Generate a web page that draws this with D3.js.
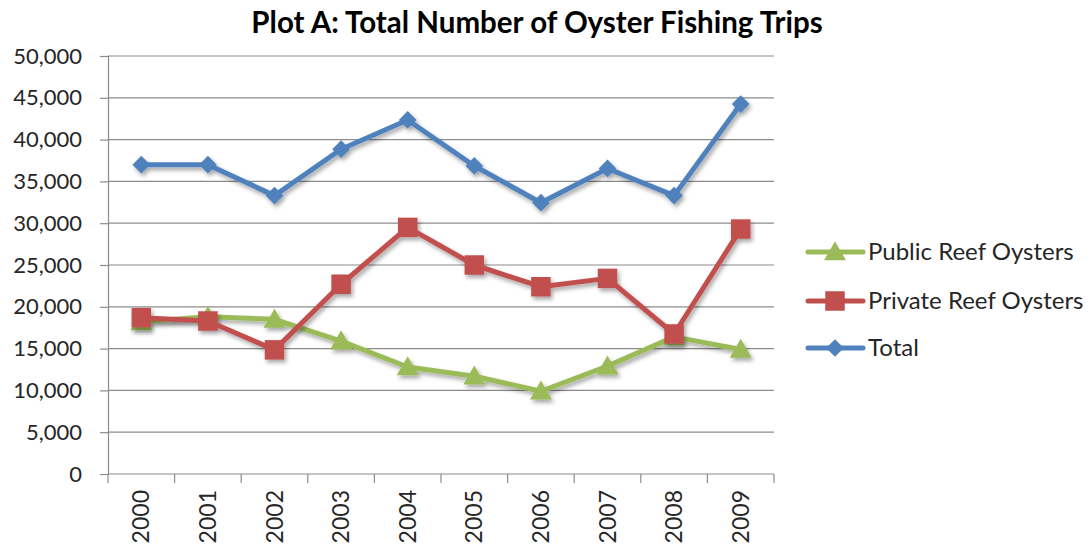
<!DOCTYPE html>
<html>
<head>
<meta charset="utf-8">
<script src="https://cdn.jsdelivr.net/npm/d3@7"></script>
<style>
  body { margin: 0; background: #fff; }
  text { font-family: Lato, "Open Sans", sans-serif; fill: #262626; }
</style>
</head>
<body>
<svg id="chart" width="1092" height="548"></svg>
<script>
// data
var years = ["2000","2001","2002","2003","2004","2005","2006","2007","2008","2009"];
var publicReef  = [18200, 18800, 18500, 15900, 12800, 11700, 9900, 12900, 16400, 14900];
var privateReef = [18700, 18300, 14850, 22700, 29500, 25000, 22400, 23400, 16750, 29300];
var total       = [37000, 37000, 33300, 38850, 42350, 36850, 32450, 36550, 33300, 44250];
var yTicks = [0, 5000, 10000, 15000, 20000, 25000, 30000, 35000, 40000, 45000, 50000];

var series = [
    {name: "Public Reef Oysters", values: publicReef, color: "#9BBB59", marker: "triangle"},
    {name: "Private Reef Oysters", values: privateReef, color: "#C0504D", marker: "square"},
    {name: "Total", values: total, color: "#4F81BD", marker: "diamond"}
];

var svg = d3.select("#chart");
var plotLeft = 108, plotRight = 774, plotTop = 56, plotBottom = 474;

var x = d3.scaleBand().domain(years).range([plotLeft, plotRight]);
var y = d3.scaleLinear().domain([0, 50000]).range([plotBottom, plotTop]);

// shadow like the spreadsheet's
var defs = svg.append("defs");
defs.append("filter").attr("id", "shadow")
    .attr("x", "-50%").attr("y", "-50%").attr("width", "200%").attr("height", "200%")
    .append("feDropShadow")
    .attr("dx", 2).attr("dy", 3).attr("stdDeviation", 2)
    .attr("flood-color", "#000").attr("flood-opacity", 0.35);

// title
svg.append("text")
    .attr("x", 537).attr("y", 33)
    .attr("text-anchor", "middle")
    .style("font-size", "29.5px").style("font-weight", "bold")
    .style("fill", "#000")
    .text("Plot A: Total Number of Oyster Fishing Trips");

// gridlines
svg.append("g").selectAll("line")
    .data(yTicks.filter(function(d) { return d > 0; }))
    .enter().append("line")
    .attr("x1", plotLeft).attr("x2", plotRight)
    .attr("y1", function(d) { return y(d); })
    .attr("y2", function(d) { return y(d); })
    .attr("stroke", "#8c8c8c").attr("stroke-width", 1.2);

// y axis
var yAxis = d3.axisLeft(y).tickValues(yTicks)
    .tickFormat(d3.format(",")).tickSize(8).tickPadding(18);
var gy = svg.append("g").attr("transform", "translate(" + plotLeft + ",0)").call(yAxis);
gy.select(".domain").attr("stroke", "#8c8c8c").attr("stroke-width", 1.2);
gy.selectAll(".tick line").attr("stroke", "#8c8c8c").attr("stroke-width", 1.2);
gy.selectAll(".tick text").style("font-size", "22px").style("font-family", "Lato, sans-serif").attr("fill", "#262626");

// x axis: ticks sit between categories
var gx = svg.append("g").attr("transform", "translate(0," + plotBottom + ")");
gx.append("line").attr("x1", plotLeft).attr("x2", plotRight)
    .attr("stroke", "#8c8c8c").attr("stroke-width", 1.2);
gx.selectAll("line.tk")
    .data(years.concat(["end"]))
    .enter().append("line").attr("class", "tk")
    .attr("x1", function(d, i) { return plotLeft + i * x.step(); })
    .attr("x2", function(d, i) { return plotLeft + i * x.step(); })
    .attr("y1", 0).attr("y2", 9)
    .attr("stroke", "#8c8c8c").attr("stroke-width", 1.2);
gx.selectAll("text")
    .data(years)
    .enter().append("text")
    .attr("transform", function(d) {
        return "translate(" + (x(d) + x.bandwidth() / 2 + 8) + ",16) rotate(-90)";
    })
    .attr("text-anchor", "end")
    .style("font-size", "23px")
    .text(function(d) { return d; });

function cx(i) { return x(years[i]) + x.bandwidth() / 2; }

var symbols = {
    triangle: d3.symbol().type(d3.symbolTriangle).size(210),
    square: d3.symbol().type(d3.symbolSquare).size(380),
    diamond: d3.symbol().type(d3.symbolDiamond2).size(200)
};

var line = d3.line()
    .x(function(d, i) { return cx(i); })
    .y(function(d) { return y(d); });

series.forEach(function(s) {
    var g = svg.append("g").attr("filter", "url(#shadow)");
    g.append("path")
        .datum(s.values)
        .attr("d", line)
        .attr("fill", "none")
        .attr("stroke", s.color)
        .attr("stroke-width", 5)
        .attr("stroke-linejoin", "round");
    g.selectAll("path.pt")
        .data(s.values)
        .enter().append("path").attr("class", "pt")
        .attr("d", symbols[s.marker])
        .attr("transform", function(d, i) {
            var dy = s.marker == "triangle" ? 2 : 0;
            return "translate(" + cx(i) + "," + (y(d) + dy) + ")";
        })
        .attr("fill", s.color);
});

// legend
var legend = svg.append("g");
var legendY = [252, 301, 348];
series.forEach(function(s, i) {
    var row = legend.append("g").attr("transform", "translate(808," + legendY[i] + ")");
    row.append("line").attr("x1", 0).attr("x2", 55)
        .attr("stroke", s.color).attr("stroke-width", 5).attr("stroke-linecap", "round");
    row.append("path")
        .attr("d", symbols[s.marker])
        .attr("transform", "translate(27," + (s.marker == "triangle" ? 2 : 0) + ")")
        .attr("fill", s.color);
    row.append("text")
        .attr("x", 60).attr("y", 8)
        .style("font-size", "24px")
        .text(s.name);
});
</script>
</body>
</html>
